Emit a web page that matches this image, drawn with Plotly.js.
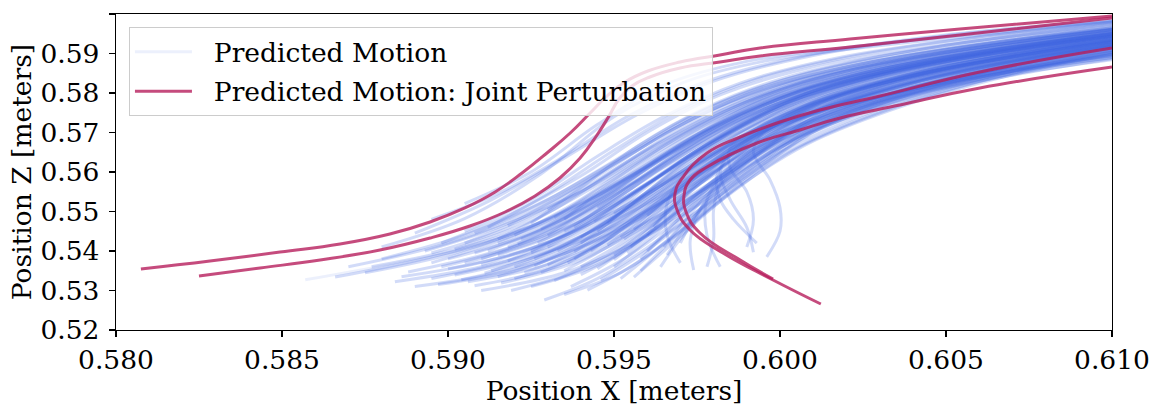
<!DOCTYPE html>
<html>
<head>
<meta charset="utf-8">
<script src="https://cdn.plot.ly/plotly-3.0.1.min.js"></script>
<style>html,body{margin:0;padding:0;background:#fff;}#chart{width:1158px;height:406px;}</style>
</head>
<body>
<div id="chart"></div>
<script>
// Predicted Motion (blue, many rollouts) : X and Z positions in meters
const predictedX = [
[0.5857,0.5885,0.5910,0.5935,0.5960,0.5985,0.6015,0.6055,0.6105],
[0.5866,0.5895,0.5920,0.5945,0.5970,0.6000,0.6035,0.6105],
[0.5870,0.5900,0.5925,0.5950,0.5975,0.6005,0.6045,0.6105],
[0.5877,0.5905,0.5930,0.5955,0.5980,0.6010,0.6050,0.6105],
[0.5884,0.5910,0.5935,0.5960,0.5985,0.6015,0.6055,0.6105],
[0.5888,0.5915,0.5940,0.5962,0.5985,0.6015,0.6060,0.6105],
[0.5895,0.5920,0.5945,0.5968,0.5990,0.6020,0.6060,0.6105],
[0.5902,0.5925,0.5950,0.5972,0.5995,0.6025,0.6065,0.6105],
[0.5906,0.5930,0.5952,0.5975,0.5998,0.6030,0.6070,0.6105],
[0.5904,0.5928,0.5950,0.5970,0.5992,0.6022,0.6060,0.6105],
[0.5911,0.5932,0.5953,0.5973,0.5995,0.6025,0.6062,0.6105],
[0.5916,0.5938,0.5958,0.5978,0.6000,0.6030,0.6068,0.6105],
[0.5929,0.5945,0.5962,0.5980,0.6002,0.6032,0.6070,0.6105],
[0.5942,0.5955,0.5970,0.5987,0.6008,0.6038,0.6072,0.6105],
[0.5946,0.5958,0.5972,0.5988,0.6008,0.6035,0.6070,0.6105],
[0.5956,0.5965,0.5977,0.5992,0.6010,0.6038,0.6072,0.6105],
[0.5964,0.5970,0.5980,0.5995,0.6013,0.6040,0.6075,0.6105],
[0.5974,0.5973,0.5977,0.5988,0.6005,0.6032,0.6070,0.6105],
[0.5982,0.5978,0.5978,0.5986,0.6003,0.6030,0.6068,0.6105],
[0.5893,0.5915,0.5940,0.5962,0.5985,0.6015,0.6055,0.6105],
[0.5920,0.5940,0.5960,0.5980,0.6003,0.6035,0.6070,0.6105],
[0.5925,0.5942,0.5960,0.5980,0.6002,0.6032,0.6068,0.6105],
[0.5935,0.5950,0.5967,0.5985,0.6005,0.6035,0.6070,0.6105],
[0.5938,0.5952,0.5968,0.5985,0.6005,0.6035,0.6070,0.6105],
[0.5950,0.5962,0.5975,0.5990,0.6010,0.6040,0.6072,0.6105],
[0.5915,0.5935,0.5955,0.5975,0.5998,0.6028,0.6065,0.6105],
[0.5900,0.5925,0.5948,0.5970,0.5993,0.6023,0.6062,0.6105],
[0.5890,0.5918,0.5943,0.5966,0.5990,0.6020,0.6060,0.6105],
[0.5910,0.5935,0.5957,0.5978,0.6000,0.6030,0.6068,0.6105],
[0.5925,0.5945,0.5963,0.5982,0.6003,0.6033,0.6070,0.6105],
[0.5935,0.5952,0.5968,0.5985,0.6005,0.6035,0.6070,0.6105],
[0.5880,0.5905,0.5930,0.5955,0.5978,0.6008,0.6048,0.6105],
[0.5898,0.5918,0.5940,0.5960,0.5982,0.6012,0.6052,0.6105],
[0.5905,0.5925,0.5945,0.5965,0.5988,0.6018,0.6058,0.6105],
[0.5915,0.5933,0.5952,0.5972,0.5995,0.6025,0.6062,0.6105],
[0.5930,0.5945,0.5962,0.5982,0.6005,0.6035,0.6070,0.6105],
[0.5940,0.5953,0.5970,0.5988,0.6008,0.6038,0.6072,0.6105],
[0.5945,0.5957,0.5972,0.5990,0.6010,0.6040,0.6075,0.6105],
[0.5955,0.5965,0.5978,0.5994,0.6013,0.6042,0.6075,0.6105],
[0.5960,0.5968,0.5980,0.5995,0.6014,0.6043,0.6076,0.6105],
[0.5950,0.5962,0.5976,0.5992,0.6012,0.6040,0.6074,0.6105],
[0.5920,0.5940,0.5958,0.5977,0.5998,0.6028,0.6065,0.6105],
[0.5895,0.5920,0.5943,0.5965,0.5988,0.6018,0.6058,0.6105],
[0.5875,0.5902,0.5927,0.5952,0.5976,0.6006,0.6046,0.6105],
[0.5910,0.5932,0.5952,0.5972,0.5995,0.6025,0.6063,0.6105],
[0.5930,0.5947,0.5965,0.5984,0.6004,0.6034,0.6070,0.6105],
[0.5940,0.5955,0.5970,0.5987,0.6007,0.6037,0.6072,0.6105],
[0.5958,0.5967,0.5979,0.5994,0.6012,0.6040,0.6074,0.6105],
[0.5965,0.5972,0.5982,0.5996,0.6014,0.6042,0.6075,0.6105],
[0.5925,0.5940,0.5957,0.5977,0.6000,0.6030,0.6066,0.6105],
[0.5935,0.5948,0.5965,0.5985,0.6007,0.6037,0.6072,0.6105],
[0.5948,0.5960,0.5975,0.5993,0.6013,0.6043,0.6076,0.6105],
[0.5912,0.5930,0.5950,0.5970,0.5993,0.6023,0.6060,0.6105],
[0.5890,0.5912,0.5935,0.5957,0.5980,0.6010,0.6050,0.6105],
[0.5895,0.5915,0.5935,0.5955,0.5978,0.6008,0.6048,0.6105],
[0.5880,0.5905,0.5928,0.5950,0.5972,0.5995,0.6025,0.6065,0.6105],
[0.5905,0.5925,0.5945,0.5965,0.5990,0.6020,0.6060,0.6105],
[0.5993,0.5986,0.5982,0.5981,0.5985,0.6000,0.6030,0.6068,0.6105],
[0.5996,0.6000,0.6000,0.5997,0.5992,0.5995,0.6010,0.6040,0.6075,0.6105],
[0.5990,0.5992,0.5990,0.5985,0.5985,0.5995,0.6020,0.6055,0.6105],
[0.5992,0.5990,0.5985,0.5982,0.5986,0.5998,0.6025,0.6062,0.6105],
[0.5978,0.5980,0.5980,0.5982,0.5990,0.6005,0.6032,0.6070,0.6105],
[0.5970,0.5966,0.5966,0.5972,0.5985,0.6005,0.6035,0.6070,0.6105],
[0.5900,0.5922,0.5945,0.5965,0.5988,0.6018,0.6058,0.6105],
[0.5908,0.5930,0.5950,0.5970,0.5992,0.6022,0.6060,0.6105],
[0.5918,0.5937,0.5956,0.5975,0.5997,0.6027,0.6064,0.6105],
[0.5927,0.5944,0.5961,0.5980,0.6001,0.6031,0.6067,0.6105],
[0.5933,0.5948,0.5964,0.5982,0.6003,0.6033,0.6068,0.6105],
[0.5943,0.5956,0.5971,0.5988,0.6008,0.6037,0.6071,0.6105],
[0.5953,0.5964,0.5977,0.5993,0.6012,0.6041,0.6074,0.6105],
[0.5962,0.5970,0.5981,0.5996,0.6014,0.6042,0.6075,0.6105],
[0.5898,0.5921,0.5943,0.5964,0.5986,0.6016,0.6056,0.6105],
[0.5913,0.5934,0.5954,0.5974,0.5996,0.6026,0.6064,0.6105],
[0.5923,0.5942,0.5960,0.5979,0.6000,0.6030,0.6066,0.6105],
[0.5932,0.5948,0.5965,0.5983,0.6004,0.6034,0.6069,0.6105],
[0.5945,0.5958,0.5973,0.5990,0.6010,0.6038,0.6072,0.6105],
[0.5952,0.5963,0.5976,0.5992,0.6011,0.6040,0.6073,0.6105],
[0.5920,0.5938,0.5956,0.5976,0.5998,0.6028,0.6065,0.6105],
[0.5928,0.5944,0.5961,0.5980,0.6002,0.6032,0.6068,0.6105],
[0.5938,0.5951,0.5967,0.5985,0.6006,0.6036,0.6070,0.6105],
[0.5950,0.5961,0.5975,0.5992,0.6012,0.6041,0.6074,0.6105],
[0.5905,0.5926,0.5947,0.5967,0.5990,0.6020,0.6059,0.6105],
[0.5918,0.5936,0.5955,0.5975,0.5997,0.6027,0.6064,0.6105],
[0.5926,0.5943,0.5961,0.5980,0.6001,0.6031,0.6067,0.6105],
[0.5936,0.5951,0.5967,0.5985,0.6006,0.6036,0.6070,0.6105],
[0.5958,0.5967,0.5979,0.5994,0.6013,0.6041,0.6074,0.6105],
[0.5966,0.5972,0.5982,0.5997,0.6015,0.6043,0.6076,0.6105],
[0.5895,0.5918,0.5941,0.5962,0.5985,0.6015,0.6055,0.6105],
[0.5886,0.5912,0.5937,0.5960,0.5984,0.6014,0.6054,0.6105],
[0.5897,0.5922,0.5945,0.5967,0.5990,0.6020,0.6060,0.6105],
[0.5908,0.5932,0.5953,0.5974,0.5996,0.6026,0.6064,0.6105],
[0.5919,0.5940,0.5959,0.5978,0.6000,0.6030,0.6068,0.6105],
[0.5937,0.5952,0.5968,0.5985,0.6006,0.6036,0.6071,0.6105],
[0.5915,0.5935,0.5955,0.5975,0.5997,0.6027,0.6064,0.6105],
[0.5922,0.5940,0.5958,0.5978,0.6000,0.6030,0.6066,0.6105],
[0.5930,0.5946,0.5963,0.5982,0.6003,0.6033,0.6068,0.6105],
[0.5940,0.5954,0.5969,0.5986,0.6006,0.6036,0.6070,0.6105],
[0.5948,0.5960,0.5974,0.5991,0.6010,0.6039,0.6073,0.6105],
[0.5956,0.5966,0.5979,0.5994,0.6012,0.6041,0.6074,0.6105],
[0.5912,0.5932,0.5952,0.5972,0.5995,0.6025,0.6062,0.6105],
[0.5925,0.5942,0.5960,0.5979,0.6000,0.6030,0.6066,0.6105],
[0.5935,0.5950,0.5966,0.5984,0.6005,0.6035,0.6069,0.6105],
[0.5944,0.5957,0.5972,0.5989,0.6009,0.6038,0.6072,0.6105],
[0.5908,0.5929,0.5950,0.5970,0.5993,0.6023,0.6061,0.6105],
[0.5918,0.5936,0.5955,0.5975,0.5997,0.6027,0.6064,0.6105],
[0.5932,0.5947,0.5964,0.5983,0.6004,0.6034,0.6069,0.6105],
[0.5952,0.5963,0.5977,0.5993,0.6012,0.6041,0.6074,0.6105],
[0.5960,0.5969,0.5980,0.5995,0.6013,0.6042,0.6075,0.6105],
[0.5970,0.5975,0.5984,0.5998,0.6016,0.6044,0.6076,0.6105],
[0.5905,0.5928,0.5949,0.5969,0.5992,0.6022,0.6060,0.6105],
[0.5915,0.5936,0.5955,0.5975,0.5997,0.6027,0.6064,0.6105],
[0.5928,0.5945,0.5962,0.5981,0.6002,0.6032,0.6068,0.6105],
[0.5940,0.5955,0.5970,0.5987,0.6007,0.6037,0.6071,0.6105],
[0.5902,0.5924,0.5946,0.5967,0.5990,0.6020,0.6059,0.6105],
[0.5921,0.5939,0.5957,0.5977,0.5999,0.6029,0.6065,0.6105],
[0.5938,0.5952,0.5968,0.5986,0.6006,0.6036,0.6070,0.6105],
[0.5950,0.5962,0.5976,0.5992,0.6011,0.6040,0.6073,0.6105],
[0.5930,0.5946,0.5963,0.5982,0.6003,0.6033,0.6068,0.6105],
[0.5945,0.5958,0.5973,0.5990,0.6010,0.6039,0.6073,0.6105],
[0.5960,0.5970,0.5982,0.5997,0.6015,0.6043,0.6076,0.6105],
[0.5910,0.5931,0.5951,0.5971,0.5994,0.6024,0.6062,0.6105],
[0.5926,0.5943,0.5961,0.5980,0.6001,0.6031,0.6067,0.6105],
[0.5954,0.5965,0.5978,0.5993,0.6012,0.6041,0.6074,0.6105]
];
const predictedZ = [
[0.5327,0.5370,0.5415,0.5490,0.5590,0.5700,0.5795,0.5875,0.5940],
[0.5334,0.5385,0.5445,0.5540,0.5660,0.5775,0.5860,0.5955],
[0.5360,0.5420,0.5500,0.5620,0.5740,0.5835,0.5905,0.5970],
[0.5360,0.5410,0.5480,0.5590,0.5710,0.5810,0.5885,0.5950],
[0.5322,0.5360,0.5420,0.5520,0.5640,0.5750,0.5845,0.5925],
[0.5347,0.5400,0.5475,0.5580,0.5690,0.5790,0.5875,0.5935],
[0.5370,0.5440,0.5540,0.5660,0.5765,0.5850,0.5915,0.5965],
[0.5339,0.5385,0.5460,0.5560,0.5670,0.5770,0.5860,0.5920],
[0.5322,0.5365,0.5440,0.5545,0.5660,0.5765,0.5855,0.5910],
[0.5327,0.5380,0.5465,0.5575,0.5690,0.5795,0.5880,0.5940],
[0.5344,0.5405,0.5500,0.5610,0.5720,0.5815,0.5890,0.5950],
[0.5319,0.5370,0.5455,0.5560,0.5675,0.5780,0.5865,0.5925],
[0.5276,0.5330,0.5420,0.5530,0.5650,0.5760,0.5850,0.5905],
[0.5301,0.5360,0.5450,0.5560,0.5670,0.5770,0.5850,0.5905],
[0.5327,0.5390,0.5480,0.5590,0.5700,0.5795,0.5870,0.5920],
[0.5334,0.5400,0.5490,0.5595,0.5700,0.5790,0.5860,0.5910],
[0.5360,0.5430,0.5520,0.5620,0.5715,0.5800,0.5865,0.5905],
[0.5352,0.5430,0.5520,0.5610,0.5700,0.5785,0.5855,0.5900],
[0.5360,0.5440,0.5530,0.5620,0.5710,0.5790,0.5858,0.5902],
[0.5400,0.5460,0.5550,0.5660,0.5760,0.5845,0.5910,0.5965],
[0.5360,0.5430,0.5530,0.5640,0.5740,0.5830,0.5895,0.5945],
[0.5400,0.5470,0.5570,0.5680,0.5775,0.5850,0.5910,0.5955],
[0.5350,0.5420,0.5520,0.5630,0.5730,0.5815,0.5882,0.5930],
[0.5380,0.5460,0.5560,0.5665,0.5760,0.5840,0.5900,0.5945],
[0.5360,0.5440,0.5540,0.5640,0.5735,0.5815,0.5878,0.5922],
[0.5390,0.5450,0.5545,0.5655,0.5755,0.5840,0.5902,0.5952],
[0.5355,0.5405,0.5490,0.5600,0.5710,0.5805,0.5880,0.5938],
[0.5310,0.5350,0.5420,0.5520,0.5640,0.5750,0.5845,0.5915],
[0.5300,0.5345,0.5425,0.5530,0.5650,0.5760,0.5850,0.5910],
[0.5310,0.5365,0.5455,0.5565,0.5680,0.5780,0.5860,0.5915],
[0.5290,0.5345,0.5435,0.5545,0.5660,0.5765,0.5850,0.5908],
[0.5380,0.5440,0.5530,0.5650,0.5760,0.5850,0.5918,0.5975],
[0.5420,0.5490,0.5590,0.5700,0.5795,0.5870,0.5925,0.5978],
[0.5450,0.5530,0.5640,0.5740,0.5825,0.5890,0.5940,0.5982],
[0.5430,0.5510,0.5615,0.5720,0.5805,0.5872,0.5925,0.5970],
[0.5440,0.5520,0.5620,0.5720,0.5800,0.5865,0.5915,0.5958],
[0.5420,0.5500,0.5600,0.5700,0.5785,0.5855,0.5905,0.5948],
[0.5450,0.5530,0.5630,0.5725,0.5805,0.5868,0.5915,0.5952],
[0.5410,0.5490,0.5585,0.5680,0.5765,0.5840,0.5895,0.5935],
[0.5440,0.5520,0.5610,0.5700,0.5780,0.5850,0.5900,0.5938],
[0.5390,0.5470,0.5570,0.5670,0.5760,0.5835,0.5890,0.5930],
[0.5330,0.5390,0.5485,0.5595,0.5705,0.5800,0.5875,0.5928],
[0.5330,0.5380,0.5460,0.5570,0.5685,0.5790,0.5870,0.5932],
[0.5345,0.5395,0.5470,0.5580,0.5700,0.5805,0.5885,0.5952],
[0.5365,0.5430,0.5525,0.5635,0.5740,0.5830,0.5898,0.5948],
[0.5365,0.5440,0.5540,0.5650,0.5750,0.5832,0.5895,0.5940],
[0.5340,0.5410,0.5505,0.5610,0.5715,0.5805,0.5875,0.5925],
[0.5380,0.5455,0.5550,0.5650,0.5745,0.5825,0.5885,0.5928],
[0.5410,0.5485,0.5575,0.5665,0.5755,0.5830,0.5888,0.5930],
[0.5470,0.5560,0.5665,0.5760,0.5835,0.5893,0.5940,0.5978],
[0.5480,0.5565,0.5665,0.5755,0.5828,0.5885,0.5930,0.5965],
[0.5470,0.5550,0.5645,0.5735,0.5810,0.5870,0.5915,0.5950],
[0.5460,0.5545,0.5655,0.5755,0.5835,0.5895,0.5942,0.5984],
[0.5445,0.5525,0.5635,0.5745,0.5830,0.5895,0.5945,0.5985],
[0.5480,0.5545,0.5640,0.5745,0.5830,0.5895,0.5945,0.5988],
[0.5410,0.5482,0.5595,0.5740,0.5830,0.5880,0.5915,0.5950,0.5985],
[0.5520,0.5600,0.5720,0.5820,0.5880,0.5915,0.5950,0.5985],
[0.5420,0.5480,0.5530,0.5590,0.5640,0.5700,0.5780,0.5845,0.5890],
[0.5385,0.5450,0.5510,0.5580,0.5650,0.5700,0.5750,0.5810,0.5860,0.5895],
[0.5410,0.5480,0.5550,0.5610,0.5660,0.5710,0.5780,0.5840,0.5900],
[0.5397,0.5460,0.5530,0.5600,0.5655,0.5710,0.5780,0.5845,0.5895],
[0.5360,0.5430,0.5504,0.5570,0.5640,0.5705,0.5780,0.5845,0.5893],
[0.5370,0.5440,0.5520,0.5600,0.5670,0.5735,0.5800,0.5855,0.5900],
[0.5380,0.5435,0.5525,0.5635,0.5745,0.5835,0.5905,0.5958],
[0.5395,0.5460,0.5555,0.5665,0.5765,0.5845,0.5905,0.5955],
[0.5410,0.5480,0.5575,0.5680,0.5775,0.5850,0.5908,0.5955],
[0.5420,0.5495,0.5590,0.5690,0.5780,0.5852,0.5906,0.5950],
[0.5400,0.5475,0.5570,0.5672,0.5765,0.5842,0.5900,0.5945],
[0.5400,0.5478,0.5575,0.5675,0.5765,0.5840,0.5896,0.5940],
[0.5430,0.5505,0.5595,0.5690,0.5775,0.5845,0.5898,0.5938],
[0.5460,0.5530,0.5615,0.5700,0.5780,0.5848,0.5898,0.5935],
[0.5360,0.5415,0.5505,0.5615,0.5725,0.5820,0.5895,0.5950],
[0.5350,0.5410,0.5505,0.5615,0.5725,0.5818,0.5890,0.5942],
[0.5345,0.5410,0.5505,0.5612,0.5718,0.5810,0.5882,0.5935],
[0.5325,0.5390,0.5485,0.5595,0.5705,0.5800,0.5875,0.5928],
[0.5355,0.5430,0.5525,0.5630,0.5730,0.5815,0.5880,0.5928],
[0.5330,0.5405,0.5500,0.5605,0.5710,0.5800,0.5868,0.5918],
[0.5440,0.5520,0.5620,0.5720,0.5805,0.5870,0.5922,0.5965],
[0.5455,0.5535,0.5632,0.5728,0.5808,0.5870,0.5920,0.5960],
[0.5460,0.5540,0.5635,0.5728,0.5805,0.5866,0.5915,0.5955],
[0.5495,0.5570,0.5655,0.5740,0.5812,0.5870,0.5915,0.5950],
[0.5420,0.5495,0.5600,0.5705,0.5795,0.5865,0.5922,0.5968],
[0.5375,0.5445,0.5542,0.5650,0.5752,0.5838,0.5902,0.5950],
[0.5380,0.5450,0.5548,0.5655,0.5755,0.5838,0.5900,0.5946],
[0.5370,0.5445,0.5545,0.5650,0.5748,0.5830,0.5892,0.5940],
[0.5350,0.5425,0.5520,0.5625,0.5725,0.5810,0.5875,0.5922],
[0.5390,0.5465,0.5555,0.5650,0.5740,0.5820,0.5880,0.5925],
[0.5395,0.5458,0.5555,0.5665,0.5765,0.5848,0.5912,0.5966],
[0.5335,0.5375,0.5445,0.5545,0.5660,0.5765,0.5855,0.5925],
[0.5315,0.5355,0.5430,0.5535,0.5650,0.5760,0.5850,0.5915],
[0.5312,0.5358,0.5438,0.5545,0.5660,0.5765,0.5852,0.5912],
[0.5300,0.5352,0.5438,0.5548,0.5662,0.5766,0.5852,0.5910],
[0.5310,0.5375,0.5470,0.5580,0.5690,0.5788,0.5865,0.5918],
[0.5420,0.5490,0.5590,0.5695,0.5790,0.5860,0.5915,0.5960],
[0.5430,0.5505,0.5605,0.5705,0.5792,0.5860,0.5912,0.5955],
[0.5410,0.5485,0.5585,0.5688,0.5778,0.5850,0.5905,0.5950],
[0.5435,0.5512,0.5605,0.5700,0.5785,0.5852,0.5903,0.5945],
[0.5415,0.5492,0.5588,0.5685,0.5772,0.5843,0.5896,0.5938],
[0.5455,0.5528,0.5615,0.5702,0.5782,0.5848,0.5898,0.5936],
[0.5400,0.5470,0.5570,0.5680,0.5778,0.5855,0.5912,0.5960],
[0.5395,0.5470,0.5570,0.5675,0.5770,0.5845,0.5902,0.5948],
[0.5450,0.5528,0.5622,0.5715,0.5795,0.5860,0.5910,0.5952],
[0.5475,0.5550,0.5638,0.5725,0.5800,0.5862,0.5910,0.5948],
[0.5445,0.5525,0.5628,0.5728,0.5812,0.5877,0.5928,0.5970],
[0.5465,0.5548,0.5645,0.5740,0.5818,0.5878,0.5926,0.5966],
[0.5485,0.5565,0.5655,0.5742,0.5815,0.5873,0.5920,0.5958],
[0.5435,0.5510,0.5600,0.5692,0.5776,0.5845,0.5896,0.5935],
[0.5400,0.5478,0.5570,0.5665,0.5755,0.5830,0.5886,0.5928],
[0.5420,0.5495,0.5580,0.5670,0.5755,0.5828,0.5884,0.5924],
[0.5370,0.5430,0.5525,0.5635,0.5740,0.5830,0.5900,0.5952],
[0.5335,0.5398,0.5495,0.5605,0.5712,0.5808,0.5882,0.5936],
[0.5345,0.5415,0.5512,0.5620,0.5722,0.5812,0.5882,0.5933],
[0.5360,0.5435,0.5532,0.5638,0.5735,0.5818,0.5882,0.5930],
[0.5405,0.5472,0.5572,0.5680,0.5778,0.5856,0.5915,0.5963],
[0.5418,0.5492,0.5592,0.5697,0.5788,0.5858,0.5912,0.5956],
[0.5398,0.5475,0.5572,0.5675,0.5768,0.5842,0.5898,0.5942],
[0.5378,0.5455,0.5552,0.5655,0.5750,0.5828,0.5886,0.5930],
[0.5505,0.5585,0.5672,0.5755,0.5825,0.5880,0.5924,0.5962],
[0.5510,0.5585,0.5668,0.5748,0.5818,0.5874,0.5918,0.5954],
[0.5490,0.5560,0.5640,0.5722,0.5796,0.5857,0.5904,0.5940],
[0.5380,0.5448,0.5545,0.5652,0.5755,0.5840,0.5905,0.5956],
[0.5362,0.5435,0.5535,0.5643,0.5745,0.5830,0.5894,0.5942],
[0.5395,0.5472,0.5565,0.5665,0.5757,0.5833,0.5890,0.5932]
];

// Predicted Motion: Joint Perturbation (4 rollouts)
const perturbedX = [
[0.58075,0.58283,0.58494,0.58675,0.58825,0.58946,0.59051,0.59142,0.59223,0.59298,0.59368,0.59428,0.59479,0.59533,0.59602,0.59699,0.59819,0.5994,0.60211,0.60542,0.6100],
[0.5825,0.58434,0.58615,0.58795,0.58946,0.59066,0.59172,0.59262,0.59337,0.59398,0.59449,0.59485,0.59515,0.59554,0.59608,0.59699,0.59819,0.5994,0.60211,0.60542,0.6100],
[0.60123,0.59979,0.59828,0.59729,0.5969,0.59684,0.59708,0.5978,0.5988,0.6,0.6012,0.60301,0.60602,0.61],
[0.59979,0.5988,0.59759,0.59717,0.59711,0.59729,0.5978,0.59931,0.6006,0.60181,0.60361,0.60602,0.61]
];
const perturbedZ = [
[0.53544,0.53747,0.53975,0.54177,0.5443,0.54734,0.55089,0.55494,0.55975,0.56481,0.56987,0.57494,0.57924,0.58278,0.58557,0.58785,0.58962,0.59139,0.59367,0.5962,0.59949],
[0.53367,0.5357,0.53772,0.54025,0.54329,0.54633,0.54987,0.55392,0.55848,0.56354,0.56937,0.57418,0.57848,0.58177,0.58405,0.58633,0.58785,0.58937,0.59165,0.59468,0.59899],
[0.52658,0.53266,0.53949,0.54532,0.55038,0.55468,0.55873,0.56481,0.56886,0.57266,0.5757,0.57924,0.58532,0.59139],
[0.53291,0.53772,0.54456,0.54987,0.55418,0.55797,0.56127,0.56734,0.57063,0.57367,0.57696,0.58127,0.58658]
];

const xTicks = [0.580,0.585,0.590,0.595,0.600,0.605,0.610];
const zTicks = [0.52,0.53,0.54,0.55,0.56,0.57,0.58,0.59,0.60];

const traces = [];
predictedX.forEach((xs, i) => {
  traces.push({
    type: 'scatter', mode: 'lines', x: xs, y: predictedZ[i],
    line: {color: i === 0 ? 'rgba(65,105,225,0.10)' : 'rgba(65,105,225,0.24)', width: 3, shape: 'spline', smoothing: 1},
    name: '\u00a0\u00a0Predicted Motion', legendgroup: 'pred', showlegend: i === 0, hoverinfo: 'skip'
  });
});
perturbedX.forEach((xs, i) => {
  traces.push({
    type: 'scatter', mode: 'lines', x: xs, y: perturbedZ[i],
    line: {color: 'rgba(182,30,92,0.8)', width: 3, shape: 'spline', smoothing: 1.3},
    name: '\u00a0\u00a0Predicted Motion: Joint Perturbation', legendgroup: 'pert', showlegend: i === 0, hoverinfo: 'skip'
  });
});

const font = {family: 'DejaVu Serif', size: 26.5, color: '#000'};
const layout = {
  width: 1158, height: 406,
  margin: {l: 116, r: 46, t: 14, b: 76},
  paper_bgcolor: '#fff', plot_bgcolor: '#fff',
  font: font,
  showlegend: true,
  legend: {
    x: 0.013, y: 0.959, xanchor: 'left', yanchor: 'top',
    bgcolor: 'rgba(255,255,255,0.8)', bordercolor: '#cccccc', borderwidth: 1,
    font: font, itemwidth: 57, tracegroupgap: 2, traceorder: 'grouped'
  },
  xaxis: {
    range: [0.580, 0.610], tickvals: xTicks, ticktext: xTicks.map(v => v.toFixed(3)),
    showgrid: false, zeroline: false, showline: true, mirror: true,
    linecolor: '#000', linewidth: 1.3, ticks: 'outside', ticklen: 6, tickwidth: 1.3, tickcolor: '#000',
    tickfont: font, title: {text: 'Position X [meters]', font: font, standoff: 0}
  },
  yaxis: {
    range: [0.52, 0.60], tickvals: zTicks, ticktext: zTicks.map(v => v.toFixed(2)),
    showgrid: false, zeroline: false, showline: true, mirror: true,
    linecolor: '#000', linewidth: 1.3, ticks: 'outside', ticklen: 6, tickwidth: 1.3, tickcolor: '#000',
    ticklabelstandoff: 4,
    tickfont: font, title: {text: 'Position Z [meters]', font: font, standoff: 1}
  }
};
Plotly.newPlot('chart', traces, layout, {staticPlot: true, displayModeBar: false});
</script>
</body>
</html>
